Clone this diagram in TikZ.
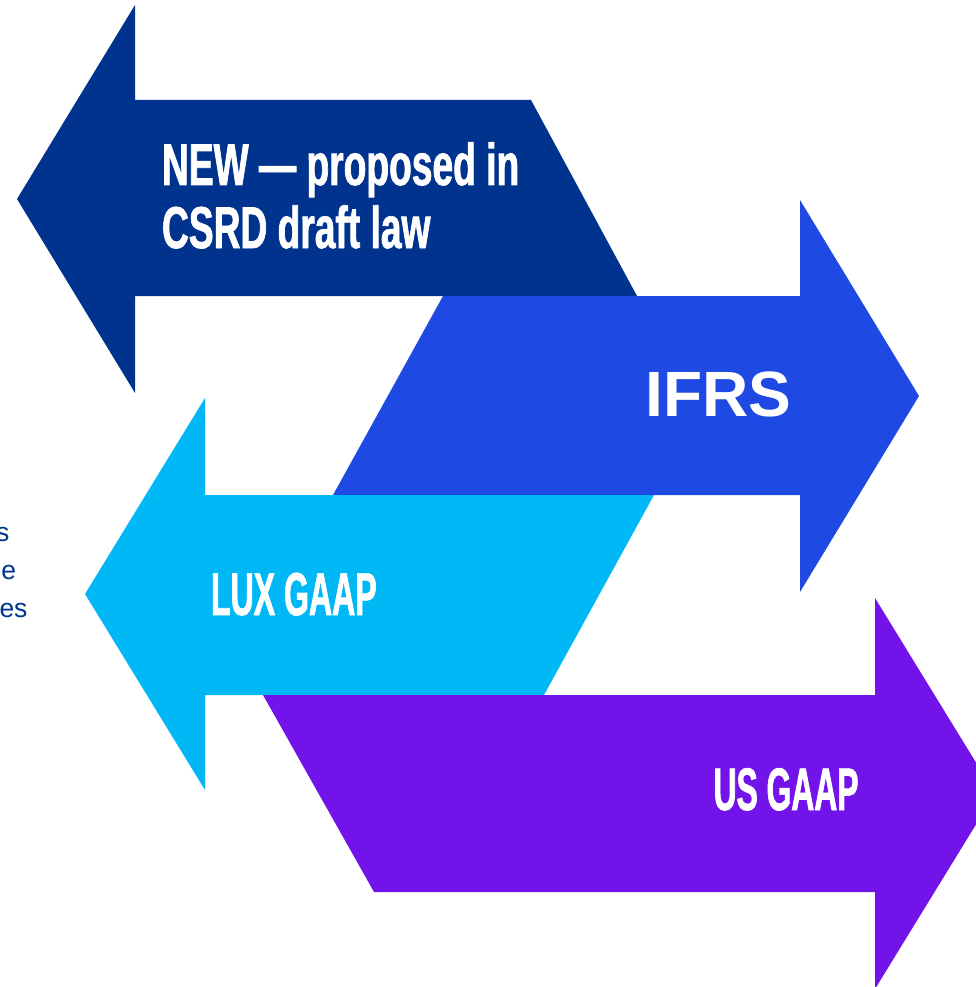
\documentclass[tikz,border=0pt]{standalone}
\usepackage{fontspec}
\setmainfont{Liberation Sans}
% condensed display faces for the arrow labels
\newfontfamily\condwide[FakeStretch=0.63,FakeBold=1.2]{Liberation Sans}
\newfontfamily\condnarrow[FakeStretch=0.53,FakeBold=1.2]{Liberation Sans}

\definecolor{kblue}{HTML}{00338D}
\definecolor{kcobalt}{HTML}{1E49E2}
\definecolor{klight}{HTML}{00B8F5}
\definecolor{kpurple}{HTML}{7213EA}

\begin{document}
\begin{tikzpicture}[x=1pt,y=-1pt,
  arrowshape/.style={draw=none},
  label/.style={inner sep=0pt,outer sep=0pt,text=white},
  sidetext/.style={inner sep=0pt,outer sep=0pt,text=kblue,
    font=\fontsize{26.5}{38}\selectfont}]
\useasboundingbox (0,0) rectangle (976,987);
\clip (0,0) rectangle (976,987);

% left-pointing arrow, dark blue
\fill[kblue] (17,199) -- (135,5) -- (135,100) -- (531,100) -- (637,296)
  -- (135,296) -- (135,393) -- cycle;

% right-pointing arrow, cobalt
\fill[kcobalt] (443,296) -- (800,296) -- (800,200) -- (919,396) -- (800,592)
  -- (800,495) -- (333,495) -- cycle;

% left-pointing arrow, light blue
\fill[klight] (85,594) -- (205,398) -- (205,495) -- (654,495) -- (544,695)
  -- (205,695) -- (205,790) -- cycle;

% right-pointing arrow, purple
\fill[kpurple] (263,695) -- (875,695) -- (875,598) -- (995,793.5) -- (875,989)
  -- (875,892) -- (374,892) -- cycle;

% labels
\node[label,anchor=base west,font=\condwide\bfseries\fontsize{59}{63}\selectfont]
  (csrdA) at (162,185) {NEW — proposed in};
\node[label,anchor=base west,font=\condwide\bfseries\fontsize{59}{63}\selectfont]
  (csrdB) at (162,248) {CSRD draft law};
\node[label,anchor=base east,font=\bfseries\fontsize{64}{70}\selectfont]
  (ifrs) at (791.5,416) {IFRS};
\node[label,anchor=base west,font=\condnarrow\bfseries\fontsize{60.5}{64}\selectfont]
  (lux) at (211,615) {LUX GAAP};
\node[label,anchor=base east,font=\condnarrow\bfseries\fontsize{60}{64}\selectfont]
  (us) at (858.5,810) {US GAAP};

% text running in from the left margin
\node[sidetext,anchor=base east] (sideA) at (9.5,541) {s};
\node[sidetext,anchor=base east] (sideB) at (16,579) {e};
\node[sidetext,anchor=base east] (sideC) at (27.5,617) {es};
\end{tikzpicture}
\end{document}
